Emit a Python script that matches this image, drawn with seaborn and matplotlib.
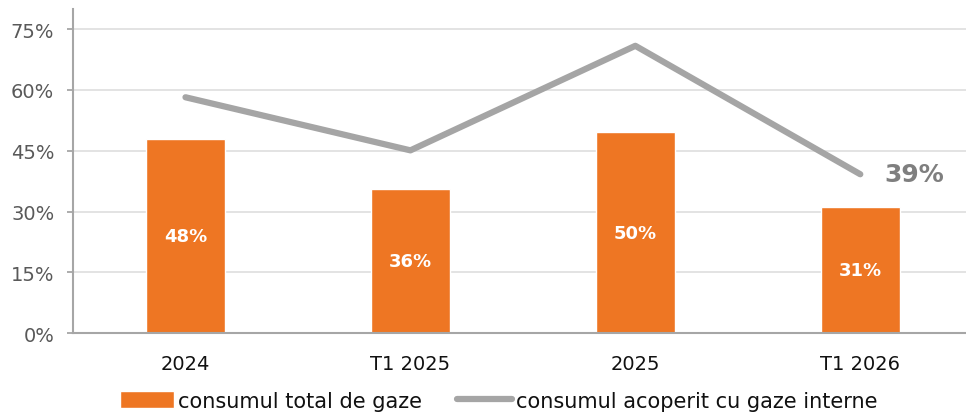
import numpy as np
import pandas as pd
import seaborn as sns
import matplotlib.pyplot as plt
from matplotlib.ticker import FuncFormatter

# Data
categories = ["2024", "T1 2025", "2025", "T1 2026"]
total_consumption = [47.9, 35.6, 49.6, 31.2]   # consumul total de gaze (%)
domestic_covered = [58.2, 45.1, 70.9, 39.2]     # consumul acoperit cu gaze interne (%)
bar_labels = ["48%", "36%", "50%", "31%"]
last_line_label = "39%"

orange = "#EE7623"
line_gray = "#A5A5A5"

sns.set_theme(style="white")
plt.rcParams["font.family"] = ["DejaVu Sans"]

df = pd.DataFrame({"period": categories, "total": total_consumption})
pos = np.arange(len(categories))

fig = plt.figure(figsize=(9.66, 4.14), dpi=100)
ax = fig.add_axes([0.0756, 0.193, 0.9244, 0.783])

sns.barplot(data=df, x="period", y="total", color=orange, width=0.35,
            saturation=1, ax=ax, label="consumul total de gaze", zorder=2)
sns.lineplot(x=pos, y=domestic_covered, color=line_gray, linewidth=4.5,
             solid_capstyle="round", ax=ax, label="consumul acoperit cu gaze interne",
             zorder=3)

# value labels inside the bars
for i, (v, txt) in enumerate(zip(total_consumption, bar_labels)):
    ax.text(i, v / 2, txt, ha="center", va="center", color="white",
            fontsize=13, fontweight="bold", zorder=4)

ax.text(pos[-1] + 0.24, domestic_covered[-1], last_line_label, ha="center",
        va="center", color="#7F7F7F", fontsize=18, fontweight="bold")

ax.set_ylim(0, 80)
ax.set_xlim(-0.5, 3.47)
ax.set_yticks([0, 15, 30, 45, 60, 75])
ax.yaxis.set_major_formatter(FuncFormatter(lambda v, _: f"{v:.0f}%"))
ax.grid(axis="y", color="#E0E0E0", linewidth=1.3, zorder=0)
ax.set_axisbelow(True)
ax.set_xlabel("")
ax.set_ylabel("")

for side in ["top", "right"]:
    ax.spines[side].set_visible(False)
for side in ["left", "bottom"]:
    ax.spines[side].set_color("#A6A6A6")
    ax.spines[side].set_linewidth(1.5)

ax.tick_params(axis="y", labelsize=14, labelcolor="#595959", length=4.5,
               color="#A6A6A6", width=1.3, left=True, pad=9)
ax.tick_params(axis="x", labelsize=14, labelcolor="#111111", length=0, pad=15)

handles, labels = ax.get_legend_handles_labels()
ax.get_legend().remove()
# bars first, then the line
order = [labels.index("consumul total de gaze"),
         labels.index("consumul acoperit cu gaze interne")]
fig.legend([handles[i] for i in order], [labels[i] for i in order],
           loc="center", bbox_to_anchor=(0.516, 0.03), ncol=2,
           frameon=False, fontsize=15, handlelength=2.6, handleheight=0.9,
           handletextpad=0.2, columnspacing=1.7, labelcolor="#111111")

fig.savefig("out.png", dpi=100)
